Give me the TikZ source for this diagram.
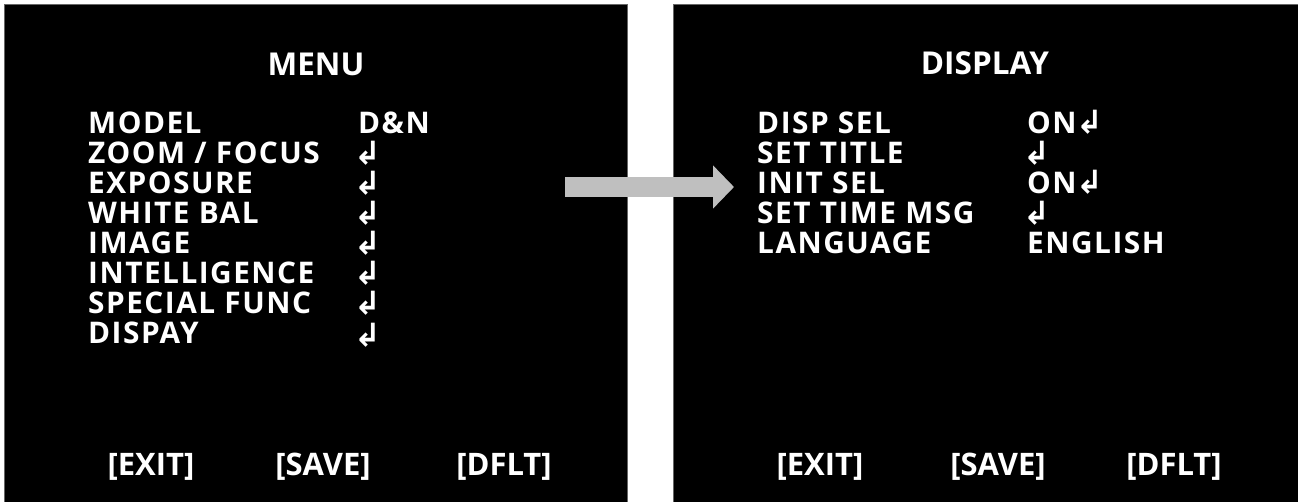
\documentclass[tikz,border=0pt]{standalone}
\usepackage{fontspec}
\setmainfont{Open Sans}
\newfontfamily\symfont{DejaVu Sans}
\newfontfamily\itemfont[LetterSpace=5]{Open Sans}
\usetikzlibrary{positioning,arrows.meta}

\definecolor{arrowgray}{HTML}{BFBFBF}
\newcommand{\enterkey}{{\symfont\fontsize{32}{32}\selectfont\char"21B2}}

\begin{document}
\begin{tikzpicture}[x=1pt, y=-1pt,
    panel/.style={fill=black, draw=black!60, line width=0.6pt},
    title/.style={text=white, font=\fontsize{31.5}{31.5}\selectfont\bfseries, inner sep=0pt, anchor=base},
    item/.style={text=white, font=\itemfont\fontsize{29.8}{29.8}\selectfont\bfseries, inner sep=0pt, anchor=base west},
    btn/.style={text=white, font=\fontsize{31}{31}\selectfont\bfseries, inner sep=0pt, anchor=base}]
    \useasboundingbox (0,0) rectangle (1298,501);

    % panels
    \fill[white] (0,0) rectangle (1298,501);
    \draw[panel] (4,4) rectangle (627,503);
    \draw[panel] (673,4) rectangle (1300,503);

    % MENU screen
    \node[title] (menu_title) at (316, 75) {MENU};
    \node[item] (model) at (88, 133) {MODEL};
    \node[item] (zoom) at (88, 163) {ZOOM / FOCUS};
    \node[item] (expo) at (88, 193) {EXPOSURE};
    \node[item] (wbal) at (88, 223) {WHITE BAL};
    \node[item] (image) at (88, 253) {IMAGE};
    \node[item] (intel) at (88, 283) {INTELLIGENCE};
    \node[item] (spfunc) at (88, 313) {SPECIAL FUNC};
    \node[item] (dispay) at (88, 343) {DISPAY};

    \node[item] (model_v) at (358, 133) {D\&N};
    \node[item] (zoom_v) at (354, 164) {\enterkey};
    \node[item] (expo_v) at (354, 194) {\enterkey};
    \node[item] (wbal_v) at (354, 224) {\enterkey};
    \node[item] (image_v) at (354, 254) {\enterkey};
    \node[item] (intel_v) at (354, 284) {\enterkey};
    \node[item] (spfunc_v) at (354, 314) {\enterkey};
    \node[item] (dispay_v) at (354, 346) {\enterkey};

    \node[btn] (exit_A) at (151, 475) {[EXIT]};
    \node[btn] (save_A) at (323, 475) {[SAVE]};
    \node[btn] (dflt_A) at (504, 475) {[DFLT]};

    % DISPLAY screen
    \node[title] (disp_title) at (985, 74) {DISPLAY};
    \node[item] (dispsel) at (757, 133) {DISP SEL};
    \node[item] (settitle) at (757, 163) {SET TITLE};
    \node[item] (initsel) at (757, 193) {INIT SEL};
    \node[item] (settime) at (757, 223) {SET TIME MSG};
    \node[item] (lang) at (757, 253) {LANGUAGE};

    \node[item] (dispsel_v) at (1027, 133) {ON\enterkey};
    \node[item] (settitle_v) at (1023, 164) {\enterkey};
    \node[item] (initsel_v) at (1027, 193) {ON\enterkey};
    \node[item] (settime_v) at (1023, 224) {\enterkey};
    \node[item] (lang_v) at (1027, 253) {ENGLISH};

    \node[btn] (exit_B) at (820, 475) {[EXIT]};
    \node[btn] (save_B) at (998, 475) {[SAVE]};
    \node[btn] (dflt_B) at (1174, 475) {[DFLT]};

    % arrow between screens
    \coordinate (arr_s) at (565, 187);
    \coordinate (arr_e) at (734, 187);
    \draw[arrowgray, line width=20pt, -{Triangle[length=21pt, width=42pt]}] (arr_s) -- (arr_e);
\end{tikzpicture}
\end{document}
